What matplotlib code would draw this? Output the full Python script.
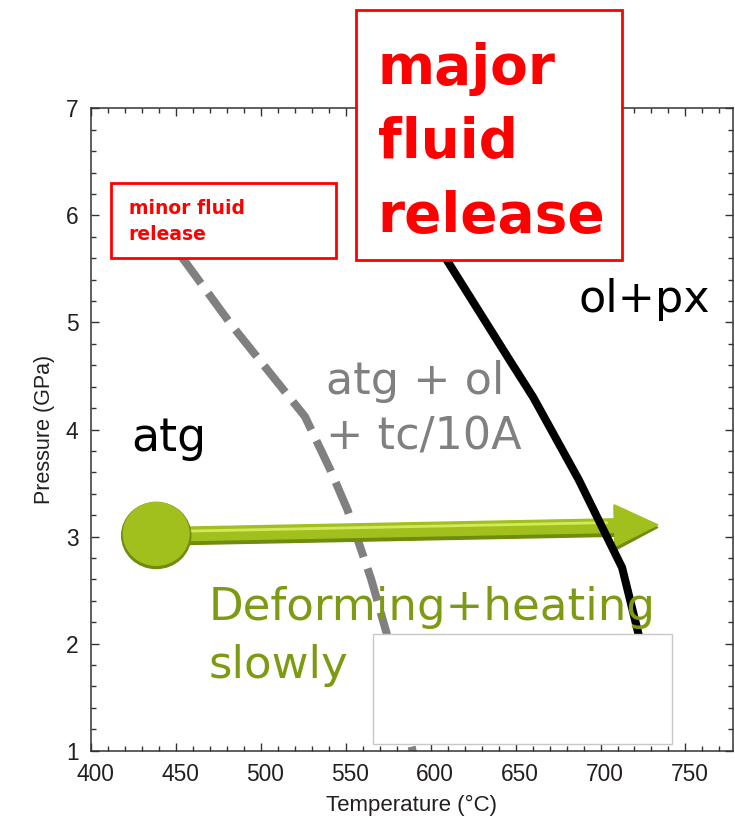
import matplotlib
matplotlib.use("Agg")
import matplotlib.pyplot as plt
from matplotlib.patches import Rectangle, Ellipse, FancyArrowPatch
from matplotlib.ticker import MultipleLocator
from matplotlib.transforms import ScaledTranslation

# Phase boundaries in P-T space
atg_out_T = [453, 483, 526, 541, 551, 565, 574, 590]          # antigorite -> atg+ol+tc/10A (dashed)
atg_out_P = [5.62, 4.97, 4.12, 3.62, 3.25, 2.60, 2.10, 0.95]
brucite_T = [597, 609.6, 646.4, 660.4, 687.2, 701.8, 712.7, 722.2, 725]   # -> ol+px (solid)
brucite_P = [5.90, 5.58, 4.65, 4.30, 3.53, 3.06, 2.71, 2.10, 1.90]

# Heating path
path_T = [438.4, 733.7]
path_P = [3.02, 3.11]

x_ticks = [400, 450, 500, 550, 600, 650, 700, 750]
y_ticks = [1, 2, 3, 4, 5, 6, 7]

W, H = 735, 825
fig = plt.figure(figsize=(W / 100, H / 100), dpi=100)
ax = fig.add_axes([91 / W, 1 - 750.7 / H, (733 - 91) / W, (750.7 - 108.3) / H])
ax.set_xlim(400, 778)
ax.set_ylim(1, 7)

tick_font = dict(family="Liberation Sans", size=16.4, color="#231f20")
ax.set_xticks(x_ticks)
ax.set_yticks(y_ticks)
ax.set_xticklabels([str(v) for v in x_ticks], **tick_font)
ax.set_yticklabels([str(v) for v in y_ticks], **tick_font)
ax.xaxis.set_minor_locator(MultipleLocator(10))
ax.yaxis.set_minor_locator(MultipleLocator(0.2))
ax.tick_params(which="both", direction="in", top=True, right=True, color="#333333", width=1.0)
ax.tick_params(which="major", length=6)
ax.tick_params(which="minor", length=3.5)
ax.tick_params(axis="x", which="major", pad=9)
ax.tick_params(axis="y", which="major", pad=9)
for lab in ax.get_xticklabels():
    lab.set_transform(lab.get_transform() + ScaledTranslation(4.5 / 100, 0, fig.dpi_scale_trans))
for s in ax.spines.values():
    s.set_color("#333333")
    s.set_linewidth(1.1)

ax.set_xlabel("Temperature (°C)", family="Liberation Sans", size=16, color="#231f20", labelpad=6)
ax.set_ylabel("Pressure (GPa)", family="Liberation Sans", size=15.5, color="#231f20", labelpad=8)

# reaction curves
ax.plot(atg_out_T, atg_out_P, color="#808080", lw=5.8, linestyle=(0, (4.2, 1.5)),
        solid_capstyle="butt", dash_capstyle="butt", zorder=2)
ax.plot(brucite_T, brucite_P, color="black", lw=5.8, solid_joinstyle="round", zorder=4)

# heating path arrow with a bead at its start
green = "#a1c01e"
dark_green = "#6f8c0c"
light_green = "#d2ea5a"
for dy, col, tw, hw in [(-0.025, dark_green, 1.0, 2.75), (0.0, green, 0.85, 2.6)]:
    arr = FancyArrowPatch((path_T[0], path_P[0] + dy), (path_T[1], path_P[1] + dy),
                          arrowstyle=f"simple,head_length=2.7,head_width={hw},tail_width={tw}",
                          mutation_scale=11.5, color=col, shrinkA=0, shrinkB=0, zorder=3)
    ax.add_patch(arr)
ax.plot([path_T[0], path_T[1] - 30], [path_P[0] + 0.025, path_P[1] + 0.02],
        color=light_green, lw=2.0, solid_capstyle="round", zorder=3.1)
ax.add_patch(Ellipse((path_T[0], path_P[0] - 0.01), 41.5, 0.63, facecolor=dark_green,
                     edgecolor="none", zorder=3.2))
ax.add_patch(Ellipse((path_T[0], path_P[0] + 0.005), 39.5, 0.6, facecolor=green,
                     edgecolor="none", zorder=3.3))

# blank panel covering lower part
ax.add_patch(Rectangle((566.3, 1.06), 175.7, 1.03, facecolor="white", edgecolor="#c8c8c8",
                       lw=1.0, zorder=5, clip_on=False))

# fluid release boxes
ax.add_patch(Rectangle((411.7, 5.60), 132.5, 0.70, facecolor="white", edgecolor="#ff0000",
                       lw=2.0, zorder=5, clip_on=False))
ax.text(422.2, 5.77, "minor fluid\nrelease", family="DejaVu Sans", weight="bold",
        size=13.5, color="#ff0000", va="baseline", ha="left", linespacing=1.45, zorder=6)

ax.add_patch(Rectangle((556.0, 5.58), 156.7, 2.34, facecolor="white", edgecolor="#ff0000",
                       lw=2.0, zorder=5, clip_on=False))
ax.text(568.7, 5.845, "major\nfluid\nrelease", family="DejaVu Sans", weight="bold",
        size=39.5, color="#ff0000", va="baseline", ha="left", linespacing=1.47, zorder=6)

# field labels
thin = dict(family="DejaVu Sans", va="baseline", ha="left", zorder=6)
ax.text(423.9, 3.80, "atg", size=33, color="black", **thin)
ax.text(538.4, 3.81, "atg + ol\n+ tc/10A", size=32, color="#808080", linespacing=1.39, **thin)
ax.text(687.2, 5.10, "ol+px", size=32, color="black", **thin)
ax.text(469.5, 1.68, "Deforming+heating\nslowly", size=32.5, color="#7d9b12", linespacing=1.44, **thin)

fig.savefig("out.png", dpi=100)
